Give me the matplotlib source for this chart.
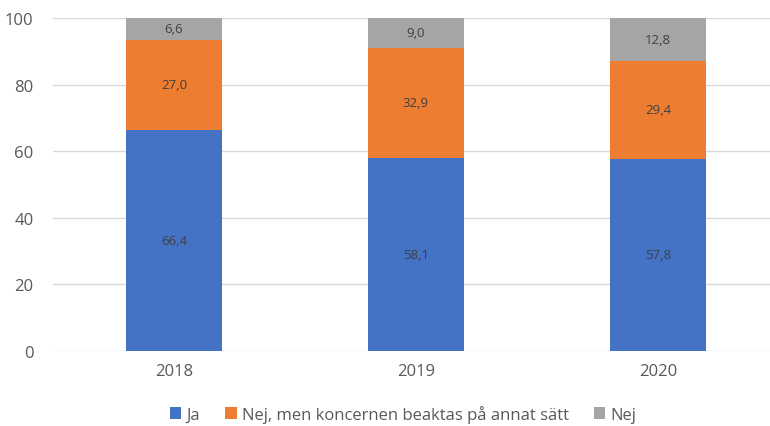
import matplotlib
matplotlib.use("Agg")
import matplotlib.pyplot as plt
import numpy as np

years = ["2018", "2019", "2020"]
ja = [66.4, 58.1, 57.8]
nej_men = [27.0, 32.9, 29.4]
nej = [6.6, 9.0, 12.8]
series_labels = ["Ja", "Nej, men koncernen beaktas på annat sätt", "Nej"]
colors = ["#4472C4", "#ED7D31", "#A5A5A5"]

plt.rcParams["font.family"] = ["Open Sans", "DejaVu Sans"]
text_color = "#595959"

fig = plt.figure(figsize=(7.7, 4.27), dpi=100)
ax = fig.add_axes([53 / 770, 1 - 352 / 427, (770 - 53) / 770, (352 - 19) / 427])

x = np.arange(len(years))
bottom = np.zeros(len(years))
for vals, lab, col in zip([ja, nej_men, nej], series_labels, colors):
    bars = ax.bar(x, vals, width=0.4, bottom=bottom, color=col, label=lab, zorder=2)
    for b, v in zip(bars, vals):
        ax.text(b.get_x() + b.get_width() / 2, b.get_y() + b.get_height() / 2,
                f"{v:.1f}".replace(".", ","), ha="center", va="center",
                fontsize=9.5, color="#404040", zorder=3)
    bottom += np.array(vals)

ax.set_xlim(-0.5, 2.463)
ax.set_ylim(0, 100)
ax.set_yticks(range(0, 101, 20))
ax.set_xticks(x)
ax.set_xticklabels(years)
ax.tick_params(axis="both", length=0, labelsize=12, colors=text_color)
ax.tick_params(axis="y", pad=14)
ax.tick_params(axis="x", pad=9)
ax.yaxis.grid(True, color="#D9D9D9", linewidth=1, zorder=0)
for s in ax.spines.values():
    s.set_visible(False)

fig.legend(loc="center", bbox_to_anchor=(403 / 770, 1 - 415 / 427), ncol=3,
           frameon=False, fontsize=12, labelcolor=text_color,
           handlelength=0.7, handleheight=0.7, handletextpad=0.3, columnspacing=1.5)

fig.savefig("out.png", dpi=100)
